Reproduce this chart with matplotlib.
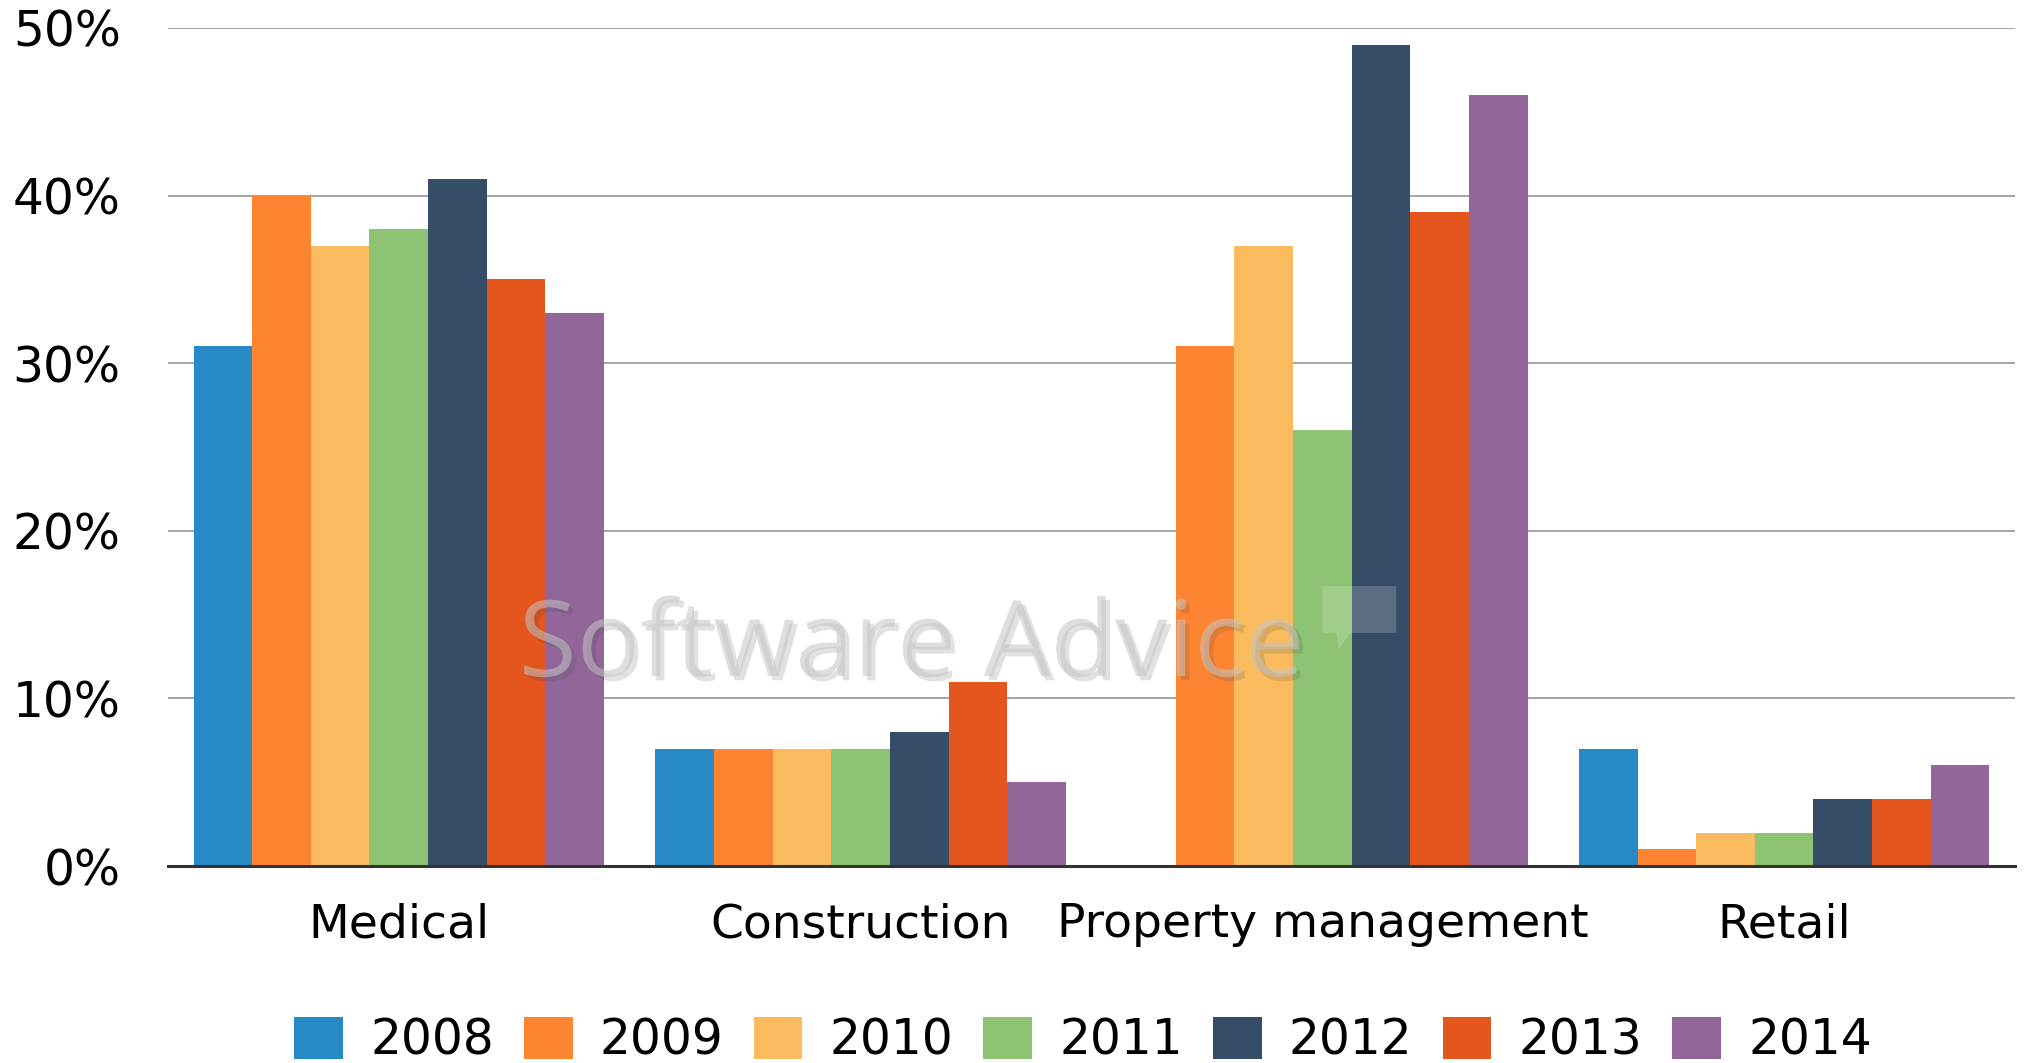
import matplotlib
matplotlib.use("Agg")
from matplotlib import pyplot as plt
from matplotlib import patheffects
from matplotlib.patches import FancyBboxPatch, Polygon
import numpy as np

categories = ["Medical", "Construction", "Property management", "Retail"]
years = ["2008", "2009", "2010", "2011", "2012", "2013", "2014"]
colors = ["#2789c5", "#fd8532", "#f9bb5e", "#8dc372", "#364d68", "#e5561e", "#936699"]

# percent per year, one list per category
medical = [31, 40, 37, 38, 41, 35, 33]
construction = [7, 7, 7, 7, 8, 11, 5]
property_mgmt = [0, 31, 37, 26, 49, 39, 46]
retail = [7, 1, 2, 2, 4, 4, 6]

values = np.array([medical, construction, property_mgmt, retail])
yticks = [0, 10, 20, 30, 40, 50]

plt.rcParams["font.family"] = ["DejaVu Sans"]

fig = plt.figure(figsize=(20.28, 10.63), dpi=100)
ax = fig.add_axes([0.0828, 0.1853, 0.9108, 0.7884])

x = np.arange(len(categories))
width = 0.127
for i, year in enumerate(years):
    ax.bar(x + (i - 3) * width, values[:, i], width, color=colors[i],
           label=year, zorder=3, linewidth=0)

ax.set_xlim(-0.5, 3.5)
ax.set_ylim(0, 50)
ax.set_yticks(yticks)
ax.set_yticklabels([f"{t}%" for t in yticks], fontsize=35)
ax.set_xticks(x)
ax.set_xticklabels(categories, fontsize=34)
ax.tick_params(axis="y", length=0, pad=34)
ax.tick_params(axis="x", length=0, pad=26)
ax.grid(axis="y", color="#8c8c8c", linewidth=1.1, zorder=0)

for s in ["top", "right", "left"]:
    ax.spines[s].set_visible(False)
ax.spines["bottom"].set_color("#333333")
ax.spines["bottom"].set_linewidth(2.2)
ax.spines["bottom"].set_zorder(4)

# watermark text + little speech bubble
ax.text(1.11, 13, "Software Advice", fontsize=76, family="Open Sans",
        color="#c4c4c4", alpha=0.55, ha="center", va="center", zorder=5,
        path_effects=[patheffects.withSimplePatchShadow(offset=(3, -3), alpha=0.15)])
bubble = FancyBboxPatch((2.0, 13.9), 0.16, 2.8, boxstyle="round,pad=0,rounding_size=0.02",
                        facecolor="#ffffff", alpha=0.18, linewidth=0, zorder=5)
ax.add_patch(bubble)
ax.add_patch(Polygon([[2.03, 13.9], [2.06, 13.9], [2.035, 12.9]], closed=True,
                     facecolor="#ffffff", alpha=0.18, linewidth=0, zorder=5))

fig.legend(loc="center", ncol=7, frameon=False, fontsize=35,
           handlelength=1.0, handleheight=0.96, handletextpad=0.56,
           columnspacing=0.62, bbox_to_anchor=(0.534, 0.021))

fig.savefig("out.png", dpi=100)
